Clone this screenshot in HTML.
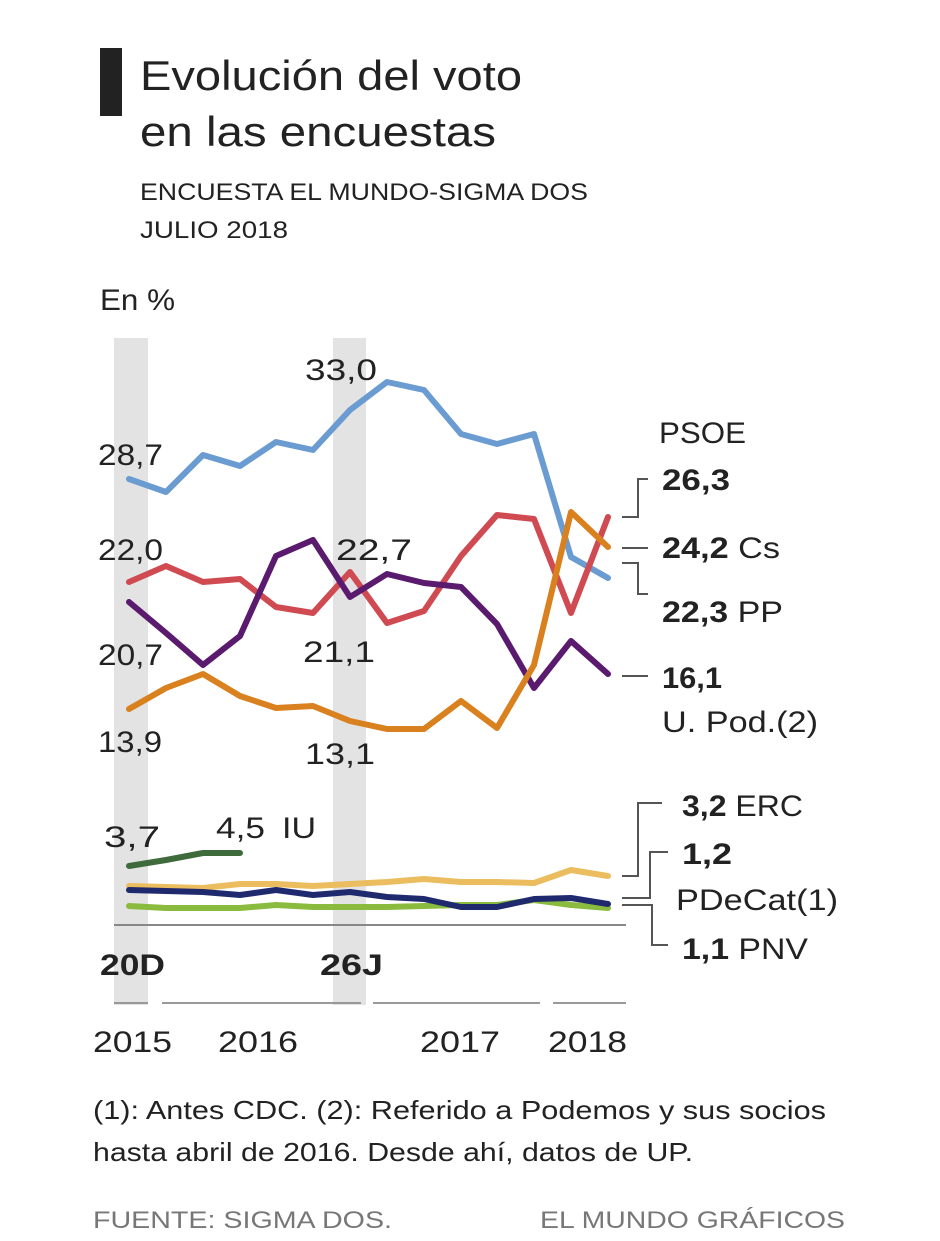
<!DOCTYPE html>
<html><head><meta charset="utf-8"><style>
body{margin:0;background:#fff;}
svg{display:block;font-family:"Liberation Sans",sans-serif;}
</style></head><body>
<svg width="940" height="1241" viewBox="0 0 940 1241">
<rect x="100" y="48" width="22" height="68" fill="#222"/>
<g lengthAdjust="spacingAndGlyphs">
<text x="140" y="90" font-size="42" fill="#222" textLength="382" lengthAdjust="spacingAndGlyphs">Evolución del voto</text>
<text x="140" y="146" font-size="42" fill="#222" textLength="356" lengthAdjust="spacingAndGlyphs">en las encuestas</text>
<text x="140" y="200" font-size="24" fill="#222" textLength="448" lengthAdjust="spacingAndGlyphs">ENCUESTA EL MUNDO-SIGMA DOS</text>
<text x="140" y="238" font-size="24" fill="#222" textLength="148" lengthAdjust="spacingAndGlyphs">JULIO 2018</text>
<text x="100" y="310" font-size="30" fill="#222" textLength="75" lengthAdjust="spacingAndGlyphs">En %</text>
</g>
<rect x="114" y="338" width="34" height="667" fill="#e3e3e3"/>
<rect x="333" y="338" width="33" height="667" fill="#e3e3e3"/>
<line x1="114" y1="925" x2="626" y2="925" stroke="#888" stroke-width="2"/>
<g stroke="#999" stroke-width="2"><line x1="114" y1="1003" x2="148" y2="1003"/><line x1="162" y1="1003" x2="361" y2="1003"/><line x1="373" y1="1003" x2="540" y2="1003"/><line x1="553" y1="1003" x2="626" y2="1003"/></g>
<g fill="none" stroke-width="6" stroke-linejoin="round" stroke-linecap="round">
<polyline stroke="#6a9bd1" points="129,479 166,492 203,455 240,466 276,442 313,450 350,410 387,382 424,390 461,434 497,444 534,434 571,557 608,578"/>
<polyline stroke="#d04a52" points="129,582 166,566 203,582 240,579 276,607 313,613 350,572 387,623 424,611 461,556 497,515 534,519 571,613 608,517"/>
<polyline stroke="#5a1a6e" points="129,602 166,633 203,665 240,636 276,556 313,540 350,597 387,574 424,583 461,587 497,624 534,688 571,641 608,674"/>
<polyline stroke="#d9801f" points="129,709 166,688 203,674 240,696 276,708 313,706 350,721 387,729 424,729 461,701 497,728 534,665 571,512 608,547"/>
<polyline stroke="#3f6b3c" points="129,866 166,860 203,853 240,853"/>
<polyline stroke="#ecbd5e" points="129,886 166,887 203,888 240,884 276,884 313,886 350,884 387,882 424,879 461,882 497,882 534,883 571,870 608,876"/>
<polyline stroke="#8bbb3e" points="129,906 166,908 203,908 240,908 276,905 313,907 350,907 387,907 424,906 461,905 497,905 534,900 571,905 608,908"/>
<polyline stroke="#1f2a6e" points="129,890 166,891 203,892 240,895 276,890 313,895 350,892 387,897 424,899 461,907 497,907 534,899 571,898 608,904"/>
</g>
<g fill="none" stroke="#555" stroke-width="2">
<polyline points="622,517 638,517 638,479 648,479"/>
<line x1="622" y1="548" x2="648" y2="548"/>
<polyline points="622,563 638,563 638,594 648,594"/>
<line x1="622" y1="676" x2="648" y2="676"/>
<polyline points="622,876 638,876 638,803 662,803"/>
<polyline points="622,898 650,898 650,852 668,852"/>
<polyline points="622,905 652,905 652,945 668,945"/>
</g>
<g font-size="30" fill="#222" lengthAdjust="spacingAndGlyphs">
<text x="98" y="465" textLength="65" lengthAdjust="spacingAndGlyphs">28,7</text>
<text x="98" y="560" textLength="65" lengthAdjust="spacingAndGlyphs">22,0</text>
<text x="98" y="665" textLength="65" lengthAdjust="spacingAndGlyphs">20,7</text>
<text x="98" y="752" textLength="64" lengthAdjust="spacingAndGlyphs">13,9</text>
<text x="305" y="380" textLength="72" lengthAdjust="spacingAndGlyphs">33,0</text>
<text x="336" y="560" textLength="76" lengthAdjust="spacingAndGlyphs">22,7</text>
<text x="303" y="662" textLength="72" lengthAdjust="spacingAndGlyphs">21,1</text>
<text x="305" y="764" textLength="70" lengthAdjust="spacingAndGlyphs">13,1</text>
<text x="104" y="847" textLength="56" lengthAdjust="spacingAndGlyphs">3,7</text>
<text x="216" y="838" textLength="49" lengthAdjust="spacingAndGlyphs">4,5</text>
<text x="282" y="838" textLength="34" lengthAdjust="spacingAndGlyphs">IU</text>
<text x="659" y="443" textLength="87" lengthAdjust="spacingAndGlyphs">PSOE</text>
<text x="662" y="490" font-weight="bold" textLength="68" lengthAdjust="spacingAndGlyphs">26,3</text>
<text x="662" y="558" textLength="118" lengthAdjust="spacingAndGlyphs"><tspan font-weight="bold">24,2</tspan> Cs</text>
<text x="662" y="622" textLength="121" lengthAdjust="spacingAndGlyphs"><tspan font-weight="bold">22,3</tspan> PP</text>
<text x="662" y="688" font-weight="bold" textLength="60" lengthAdjust="spacingAndGlyphs">16,1</text>
<text x="662" y="732" textLength="156" lengthAdjust="spacingAndGlyphs">U. Pod.(2)</text>
<text x="682" y="816" textLength="121" lengthAdjust="spacingAndGlyphs"><tspan font-weight="bold">3,2</tspan> ERC</text>
<text x="682" y="864" font-weight="bold" textLength="50" lengthAdjust="spacingAndGlyphs">1,2</text>
<text x="676" y="910" textLength="162" lengthAdjust="spacingAndGlyphs">PDeCat(1)</text>
<text x="682" y="959" textLength="126" lengthAdjust="spacingAndGlyphs"><tspan font-weight="bold">1,1</tspan> PNV</text>
<text x="100" y="975" font-weight="bold" textLength="65" lengthAdjust="spacingAndGlyphs">20D</text>
<text x="320" y="975" font-weight="bold" textLength="63" lengthAdjust="spacingAndGlyphs">26J</text>
<text x="93" y="1052" textLength="79" lengthAdjust="spacingAndGlyphs">2015</text>
<text x="218" y="1052" textLength="80" lengthAdjust="spacingAndGlyphs">2016</text>
<text x="420" y="1052" textLength="80" lengthAdjust="spacingAndGlyphs">2017</text>
<text x="548" y="1052" textLength="79" lengthAdjust="spacingAndGlyphs">2018</text>
</g>
<text x="93" y="1119" font-size="26" fill="#222" textLength="733" lengthAdjust="spacingAndGlyphs">(1): Antes CDC. (2): Referido a Podemos y sus socios</text>
<text x="93" y="1161" font-size="26" fill="#222" textLength="600" lengthAdjust="spacingAndGlyphs">hasta abril de 2016. Desde ahí, datos de UP.</text>
<text x="93" y="1228" font-size="24" fill="#777" textLength="299" lengthAdjust="spacingAndGlyphs">FUENTE: SIGMA DOS.</text>
<text x="540" y="1228" font-size="24" fill="#777" textLength="305" lengthAdjust="spacingAndGlyphs">EL MUNDO GRÁFICOS</text>
</svg>
</body></html>
